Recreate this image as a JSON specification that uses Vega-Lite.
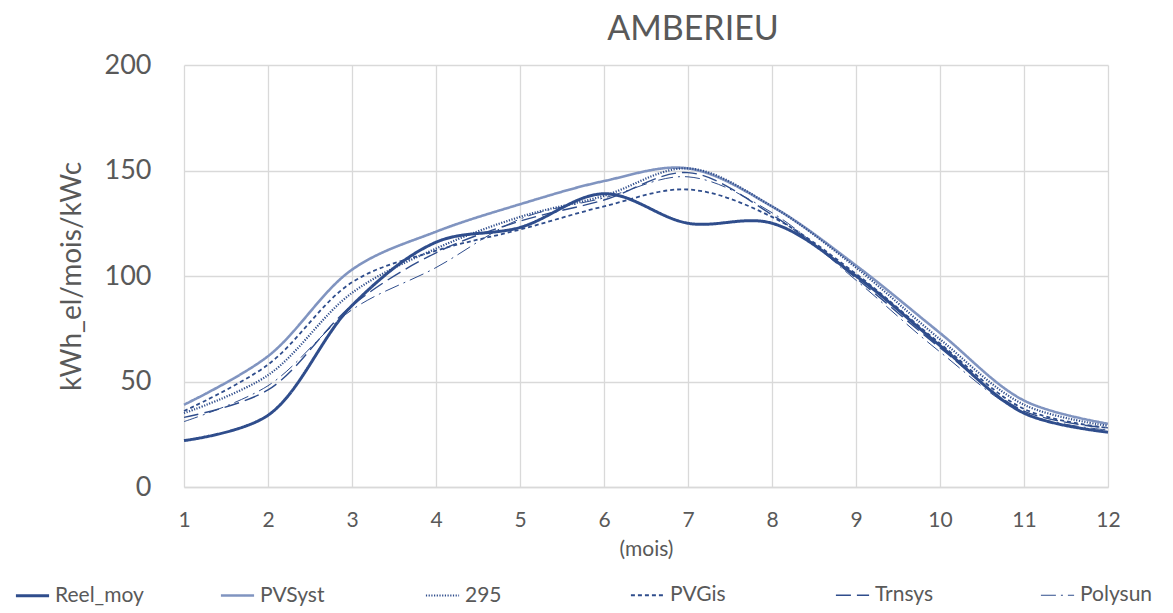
{
  "$schema": "https://vega.github.io/schema/vega-lite/v6.json",
  "width": 924,
  "height": 422,
  "autosize": "none",
  "padding": {"left": 184, "top": 65, "right": 65, "bottom": 126},
  "background": "white",
  "config": {
    "font": "Lato",
    "view": {"stroke": null}
  },
  "title": {"text": "AMBERIEU", "fontSize": 34, "font": "Lato", "fontWeight": "normal", "color": "#595959", "anchor": "middle", "dx": 47, "offset": 4},
  "data": {"values": [
    {"mois": 1, "serie": "Reel_moy", "v": 22}, {"mois": 2, "serie": "Reel_moy", "v": 34}, {"mois": 3, "serie": "Reel_moy", "v": 86}, {"mois": 4, "serie": "Reel_moy", "v": 116}, {"mois": 5, "serie": "Reel_moy", "v": 123}, {"mois": 6, "serie": "Reel_moy", "v": 139}, {"mois": 7, "serie": "Reel_moy", "v": 125}, {"mois": 8, "serie": "Reel_moy", "v": 125}, {"mois": 9, "serie": "Reel_moy", "v": 100}, {"mois": 10, "serie": "Reel_moy", "v": 67}, {"mois": 11, "serie": "Reel_moy", "v": 35}, {"mois": 12, "serie": "Reel_moy", "v": 26},
    {"mois": 1, "serie": "PVSyst", "v": 39}, {"mois": 2, "serie": "PVSyst", "v": 62}, {"mois": 3, "serie": "PVSyst", "v": 103}, {"mois": 4, "serie": "PVSyst", "v": 121}, {"mois": 5, "serie": "PVSyst", "v": 134}, {"mois": 6, "serie": "PVSyst", "v": 145}, {"mois": 7, "serie": "PVSyst", "v": 151}, {"mois": 8, "serie": "PVSyst", "v": 133}, {"mois": 9, "serie": "PVSyst", "v": 105}, {"mois": 10, "serie": "PVSyst", "v": 73}, {"mois": 11, "serie": "PVSyst", "v": 41}, {"mois": 12, "serie": "PVSyst", "v": 30},
    {"mois": 1, "serie": "295", "v": 35}, {"mois": 2, "serie": "295", "v": 53}, {"mois": 3, "serie": "295", "v": 92}, {"mois": 4, "serie": "295", "v": 113}, {"mois": 5, "serie": "295", "v": 128}, {"mois": 6, "serie": "295", "v": 138}, {"mois": 7, "serie": "295", "v": 151}, {"mois": 8, "serie": "295", "v": 133}, {"mois": 9, "serie": "295", "v": 104}, {"mois": 10, "serie": "295", "v": 70}, {"mois": 11, "serie": "295", "v": 39}, {"mois": 12, "serie": "295", "v": 29},
    {"mois": 1, "serie": "PVGis", "v": 36}, {"mois": 2, "serie": "PVGis", "v": 58}, {"mois": 3, "serie": "PVGis", "v": 97}, {"mois": 4, "serie": "PVGis", "v": 112}, {"mois": 5, "serie": "PVGis", "v": 122}, {"mois": 6, "serie": "PVGis", "v": 133}, {"mois": 7, "serie": "PVGis", "v": 141}, {"mois": 8, "serie": "PVGis", "v": 128}, {"mois": 9, "serie": "PVGis", "v": 101}, {"mois": 10, "serie": "PVGis", "v": 68}, {"mois": 11, "serie": "PVGis", "v": 37}, {"mois": 12, "serie": "PVGis", "v": 28},
    {"mois": 1, "serie": "Trnsys", "v": 33}, {"mois": 2, "serie": "Trnsys", "v": 46}, {"mois": 3, "serie": "Trnsys", "v": 86}, {"mois": 4, "serie": "Trnsys", "v": 111}, {"mois": 5, "serie": "Trnsys", "v": 126}, {"mois": 6, "serie": "Trnsys", "v": 136}, {"mois": 7, "serie": "Trnsys", "v": 149}, {"mois": 8, "serie": "Trnsys", "v": 129}, {"mois": 9, "serie": "Trnsys", "v": 99}, {"mois": 10, "serie": "Trnsys", "v": 66}, {"mois": 11, "serie": "Trnsys", "v": 36}, {"mois": 12, "serie": "Trnsys", "v": 28},
    {"mois": 1, "serie": "Polysun", "v": 31}, {"mois": 2, "serie": "Polysun", "v": 48}, {"mois": 3, "serie": "Polysun", "v": 84}, {"mois": 4, "serie": "Polysun", "v": 104}, {"mois": 5, "serie": "Polysun", "v": 127}, {"mois": 6, "serie": "Polysun", "v": 137}, {"mois": 7, "serie": "Polysun", "v": 147}, {"mois": 8, "serie": "Polysun", "v": 130}, {"mois": 9, "serie": "Polysun", "v": 98}, {"mois": 10, "serie": "Polysun", "v": 64}, {"mois": 11, "serie": "Polysun", "v": 35}, {"mois": 12, "serie": "Polysun", "v": 27}
  ]},
  "mark": {"type": "line", "interpolate": "catmull-rom"},
  "encoding": {
    "x": {
      "field": "mois", "type": "quantitative",
      "scale": {"domain": [1, 12], "nice": false, "zero": false},
      "axis": {"values": [1,2,3,4,5,6,7,8,9,10,11,12], "title": "(mois)", "titleFontSize": 21, "titleFontWeight": "normal", "titleColor": "#595959", "titlePadding": 8,
               "labelFontSize": 21, "labelColor": "#595959", "labelPadding": 22, "labelFlush": false, "ticks": false,
               "grid": true, "gridColor": "#d9d9d9", "gridWidth": 1.3, "domainColor": "#d9d9d9", "domainWidth": 1.3}
    },
    "y": {
      "field": "v", "type": "quantitative",
      "scale": {"domain": [0, 200], "nice": false},
      "axis": {"values": [0, 50, 100, 150, 200], "title": "kWh_el/mois/kWc", "titleFontSize": 28, "titleFontWeight": "normal", "titleColor": "#595959", "titlePadding": 18,
               "labelFontSize": 27, "labelColor": "#595959", "labelPadding": 33, "ticks": false, "domain": false,
               "grid": true, "gridColor": "#d9d9d9", "gridWidth": 1.3}
    },
    "color": {
      "field": "serie", "type": "nominal",
      "scale": {"domain": ["Reel_moy", "PVSyst", "295", "PVGis", "Trnsys", "Polysun"], "range": ["#2f4d8c", "#8094c0", "#2f4d8c", "#2f4d8c", "#2f4d8c", "#2f4d8c"]},
      "legend": {"orient": "none", "legendX": -170, "legendY": 512, "direction": "horizontal", "columns": 6, "gridAlign": "all", "columnPadding": 71, "title": null,
                 "symbolType": "stroke", "symbolSize": 1100, "labelFontSize": 21, "labelColor": "#595959", "labelOffset": 4, "labelLimit": 200}
    },
    "strokeDash": {
      "field": "serie", "type": "nominal",
      "scale": {"domain": ["Reel_moy", "PVSyst", "295", "PVGis", "Trnsys", "Polysun"], "range": [[1, 0], [1, 0], [1.2, 1.5], [4, 3], [15, 6], [15, 5, 2, 5]]}
    },
    "strokeWidth": {
      "field": "serie", "type": "nominal",
      "scale": {"domain": ["Reel_moy", "PVSyst", "295", "PVGis", "Trnsys", "Polysun"], "range": [3, 1, 2, 2, 2, 2]}
    }
  }
}
